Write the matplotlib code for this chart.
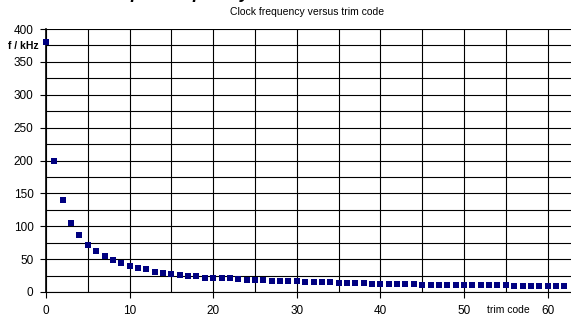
import matplotlib
matplotlib.use("Agg")
import matplotlib.pyplot as plt
import numpy as np

plt.rcParams['font.family'] = ['Liberation Sans', 'DejaVu Sans']

# trim code vs clock frequency (kHz)
trim_code = list(range(63))
freq_khz = [380, 200, 140, 105, 86, 71, 62, 54, 48, 44,
            39, 36, 35, 31, 29, 27, 26, 24, 24, 22,
            22, 21, 21, 20, 19, 19, 18, 17, 17, 16,
            16, 15, 15, 15, 15, 14, 14, 13, 13, 12,
            12, 12, 12, 12, 12, 11, 11, 11, 11, 11,
            11, 11, 10, 10, 10, 10, 9, 9, 9, 9,
            9, 9, 9]
x_ticks = [0, 10, 20, 30, 40, 50, 60]
y_ticks = [0, 50, 100, 150, 200, 250, 300, 350, 400]

fig = plt.figure(figsize=(5.71, 3.18), dpi=100)
ax = fig.add_axes([46/571, 26/318, (571-46)/571, (292-29)/318])

ax.scatter(trim_code, freq_khz, marker='s', s=18, color='#000080', zorder=3,
           linewidths=0, clip_on=False)

ax.set_xlim(0, 62.8)
ax.set_ylim(0, 400)
ax.set_xticks(x_ticks)
ax.set_yticks(y_ticks)
ax.set_xticks(np.arange(0, 63, 5), minor=True)
ax.set_yticks(np.arange(0, 401, 25), minor=True)
ax.grid(which='both', color='black', linewidth=0.8)
ax.set_axisbelow(True)
ax.tick_params(which='minor', length=0)
ax.tick_params(which='major', labelsize=8.5, length=4, width=0.8, pad=5)
for s in ['top', 'right']:
    ax.spines[s].set_visible(False)
ax.spines['left'].set_linewidth(1.2)
ax.spines['bottom'].set_linewidth(0.8)

fig.text(307/571, 1 - 12/318, 'Clock frequency versus trim code', fontsize=7.5,
         ha='center', va='center')
fig.text(100/571, 1 + 2/318, 'Output frequency', fontsize=13, fontweight='bold',
         fontstyle='italic', ha='left', va='baseline')
fig.text(23/571, 1 - 46/318, 'f / kHz', fontsize=7.5, fontweight='bold',
         ha='center', va='center')
fig.text(508/571, 1 - 310/318, 'trim code', fontsize=7.5, ha='center', va='center')

fig.savefig('out.png', dpi=100)
